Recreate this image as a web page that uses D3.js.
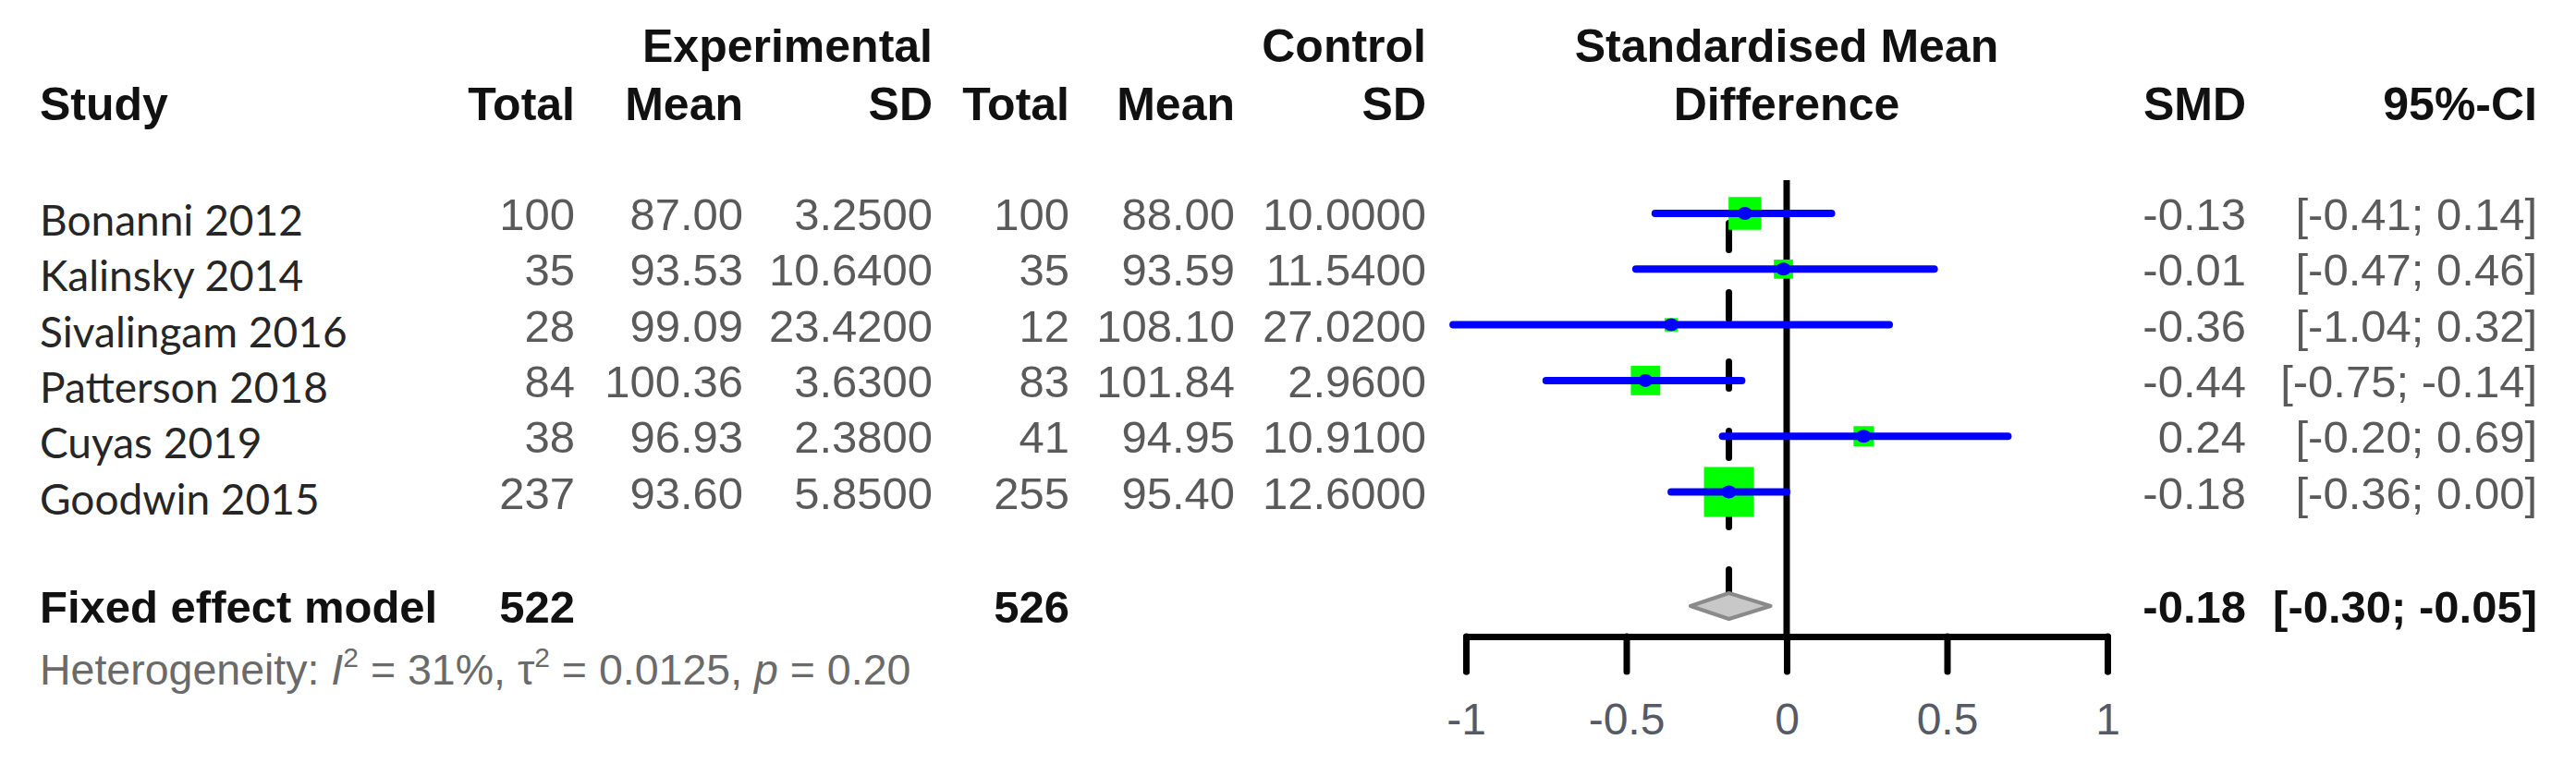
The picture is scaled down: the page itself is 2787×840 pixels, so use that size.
<!DOCTYPE html>
<html>
<head>
<meta charset="utf-8">
<script src="https://cdn.jsdelivr.net/npm/d3@7"></script>
<style>
  html, body { margin: 0; padding: 0; background: #fff; }
  svg { display: block; }
</style>
</head>
<body>
<script>
// ---------------- data ----------------
const studies   = ["Bonanni 2012", "Kalinsky 2014", "Sivalingam 2016", "Patterson 2018", "Cuyas 2019", "Goodwin 2015"];
const expTotal  = [100, 35, 28, 84, 38, 237];
const expMean   = [87.00, 93.53, 99.09, 100.36, 96.93, 93.60];
const expSD     = [3.2500, 10.6400, 23.4200, 3.6300, 2.3800, 5.8500];
const ctrlTotal = [100, 35, 12, 83, 41, 255];
const ctrlMean  = [88.00, 93.59, 108.10, 101.84, 94.95, 95.40];
const ctrlSD    = [10.0000, 11.5400, 27.0200, 2.9600, 10.9100, 12.6000];
const smd       = [-0.13, -0.01, -0.36, -0.44, 0.24, -0.18];
const ciLow     = [-0.41, -0.47, -1.04, -0.75, -0.20, -0.36];
const ciHigh    = [0.14, 0.46, 0.32, -0.14, 0.69, 0.00];
const weights   = [20.0, 6.8, 3.3, 16.1, 7.6, 46.3];   // % weight (square area)

const pooledLabel = "Fixed effect model";
const pooledExpTotal = 522;
const pooledCtrlTotal = 526;
const pooledSMD = -0.18;
const pooledLow = -0.30;
const pooledHigh = -0.05;

const axisTicks = [-1, -0.5, 0, 0.5, 1];
const hetI2 = "31%";
const hetTau2 = "0.0125";
const hetP = "0.20";

// ---------------- layout ----------------
const W = 2787, H = 840;
const svg = d3.select("body").append("svg").attr("width", W).attr("height", H);

const x = d3.scaleLinear().domain([-1, 1]).range([1586, 2280]);
const y = d3.scaleLinear().domain([0, studies.length - 1]).range([231, 532.5]);
const yPooled = 656;
const yAxis = 689;
const size = d3.scaleSqrt().domain([0, d3.max(weights)]).range([0, 54]);

const col = { study: 43, expTotal: 622, expMean: 804, expSD: 1009, ctrlTotal: 1157,
              ctrlMean: 1336, ctrlSD: 1543, smd: 2430, ci: 2745 };

const numFont = "'Liberation Sans', Arial, sans-serif";
const nameFont = "Lato, 'Open Sans', sans-serif";
const numColor = "#5a5a5a";

// ---------------- headers ----------------
const hdr = svg.append("g").attr("font-family", numFont).attr("font-weight", "bold")
  .attr("font-size", 50).attr("fill", "#111");
const hdr1 = 67, hdr2 = 130;
hdr.append("text").attr("x", col.expSD).attr("y", hdr1).attr("text-anchor", "end").text("Experimental");
hdr.append("text").attr("x", col.ctrlSD).attr("y", hdr1).attr("text-anchor", "end").text("Control");
hdr.append("text").attr("x", x(0)).attr("y", hdr1).attr("text-anchor", "middle").text("Standardised Mean");
hdr.append("text").attr("x", x(0)).attr("y", hdr2).attr("text-anchor", "middle").text("Difference");
hdr.append("text").attr("x", col.study).attr("y", hdr2).text("Study");
[["expTotal","Total"],["expMean","Mean"],["expSD","SD"],["ctrlTotal","Total"],
 ["ctrlMean","Mean"],["ctrlSD","SD"],["smd","SMD"],["ci","95%-CI"]].forEach(([k, t]) => {
  hdr.append("text").attr("x", col[k]).attr("y", hdr2).attr("text-anchor", "end").text(t);
});

// ---------------- study rows (text) ----------------
const rows = svg.append("g");
studies.forEach((s, i) => {
  const yy = y(i);
  rows.append("text").attr("x", col.study).attr("y", yy + 24)
    .attr("font-family", nameFont).attr("font-size", 46).attr("fill", "#262626").text(s);
  const cells = [
    ["expTotal", String(expTotal[i])],
    ["expMean", expMean[i].toFixed(2)],
    ["expSD", expSD[i].toFixed(4)],
    ["ctrlTotal", String(ctrlTotal[i])],
    ["ctrlMean", ctrlMean[i].toFixed(2)],
    ["ctrlSD", ctrlSD[i].toFixed(4)],
    ["smd", smd[i].toFixed(2)],
    ["ci", "[" + ciLow[i].toFixed(2) + "; " + ciHigh[i].toFixed(2) + "]"]
  ];
  cells.forEach(([k, t]) => {
    rows.append("text").attr("x", col[k]).attr("y", yy + 18).attr("text-anchor", "end")
      .attr("font-family", numFont).attr("font-size", 49).attr("fill", numColor).text(t);
  });
});

// pooled row text
const pr = svg.append("g").attr("font-family", numFont).attr("font-weight", "bold")
  .attr("font-size", 49).attr("fill", "#111");
pr.append("text").attr("x", col.study).attr("y", yPooled + 18).text(pooledLabel);
pr.append("text").attr("x", col.expTotal).attr("y", yPooled + 18).attr("text-anchor", "end").text(pooledExpTotal);
pr.append("text").attr("x", col.ctrlTotal).attr("y", yPooled + 18).attr("text-anchor", "end").text(pooledCtrlTotal);
pr.append("text").attr("x", col.smd).attr("y", yPooled + 18).attr("text-anchor", "end").text(pooledSMD.toFixed(2));
pr.append("text").attr("x", col.ci).attr("y", yPooled + 18).attr("text-anchor", "end")
  .text("[" + pooledLow.toFixed(2) + "; " + pooledHigh.toFixed(2) + "]");

// heterogeneity
const het = svg.append("text").attr("x", col.study).attr("y", 741)
  .attr("font-family", numFont).attr("font-size", 46.5).attr("fill", "#6a6a6a");
het.append("tspan").text("Heterogeneity: ");
het.append("tspan").attr("font-style", "italic").text("I");
het.append("tspan").attr("dy", -19).attr("font-size", 30).text("2");
het.append("tspan").attr("dy", 19).text(" = " + hetI2 + ", ");
het.append("tspan").text("\u03c4");
het.append("tspan").attr("dy", -19).attr("font-size", 30).text("2");
het.append("tspan").attr("dy", 19).text(" = " + hetTau2 + ", ");
het.append("tspan").attr("font-style", "italic").text("p");
het.append("tspan").text(" = " + hetP);

// ---------------- plot ----------------
const plot = svg.append("g");

// reference line at 0
plot.append("line").attr("x1", x(0)).attr("x2", x(0)).attr("y1", 195).attr("y2", yAxis)
  .attr("stroke", "#000").attr("stroke-width", 7);

// dashed pooled line
plot.append("line").attr("x1", x(pooledSMD)).attr("x2", x(pooledSMD))
  .attr("y1", 201).attr("y2", yPooled - 14)
  .attr("stroke", "#000").attr("stroke-width", 7).attr("stroke-linecap", "round")
  .attr("stroke-dasharray", "29,46").attr("stroke-dashoffset", 34.5);

// squares
plot.selectAll("rect.sq").data(studies).join("rect").attr("class", "sq")
  .attr("x", (d, i) => x(smd[i]) - size(weights[i]) / 2)
  .attr("y", (d, i) => y(i) - size(weights[i]) / 2)
  .attr("width", (d, i) => size(weights[i]))
  .attr("height", (d, i) => size(weights[i]))
  .attr("fill", "#00ff00");

// CI lines
plot.selectAll("line.ci").data(studies).join("line").attr("class", "ci")
  .attr("x1", (d, i) => x(ciLow[i])).attr("x2", (d, i) => x(ciHigh[i]))
  .attr("y1", (d, i) => y(i)).attr("y2", (d, i) => y(i))
  .attr("stroke", "#0000ff").attr("stroke-width", 8).attr("stroke-linecap", "round");

// point estimates
plot.selectAll("ellipse.pt").data(studies).join("ellipse").attr("class", "pt")
  .attr("cx", (d, i) => x(smd[i])).attr("cy", (d, i) => y(i))
  .attr("rx", 8).attr("ry", 7).attr("fill", "#0000ff");

// diamond
const dh = 14;
plot.append("path")
  .attr("d", `M${x(pooledLow)},${yPooled} L${x(pooledSMD)},${yPooled - dh} L${x(pooledHigh)},${yPooled} L${x(pooledSMD)},${yPooled + dh} Z`)
  .attr("fill", "#c8c8c8").attr("stroke", "#8a8a8a").attr("stroke-width", 4)
  .attr("stroke-linejoin", "round");

// axis
const axis = d3.axisBottom(x).tickValues(axisTicks).tickSize(38).tickSizeOuter(38)
  .tickFormat(d => String(d));
const ag = svg.append("g").attr("transform", `translate(0,${yAxis})`).call(axis);
ag.select(".domain").attr("stroke", "#000").attr("stroke-width", 7)
  .attr("stroke-linejoin", "round").attr("stroke-linecap", "round");
ag.selectAll(".tick line").attr("stroke", "#000").attr("stroke-width", 7).attr("stroke-linecap", "round");
ag.selectAll(".tick text").attr("font-family", numFont).attr("font-size", 48)
  .attr("fill", "#555a66").attr("y", 72);
</script>
</body>
</html>
